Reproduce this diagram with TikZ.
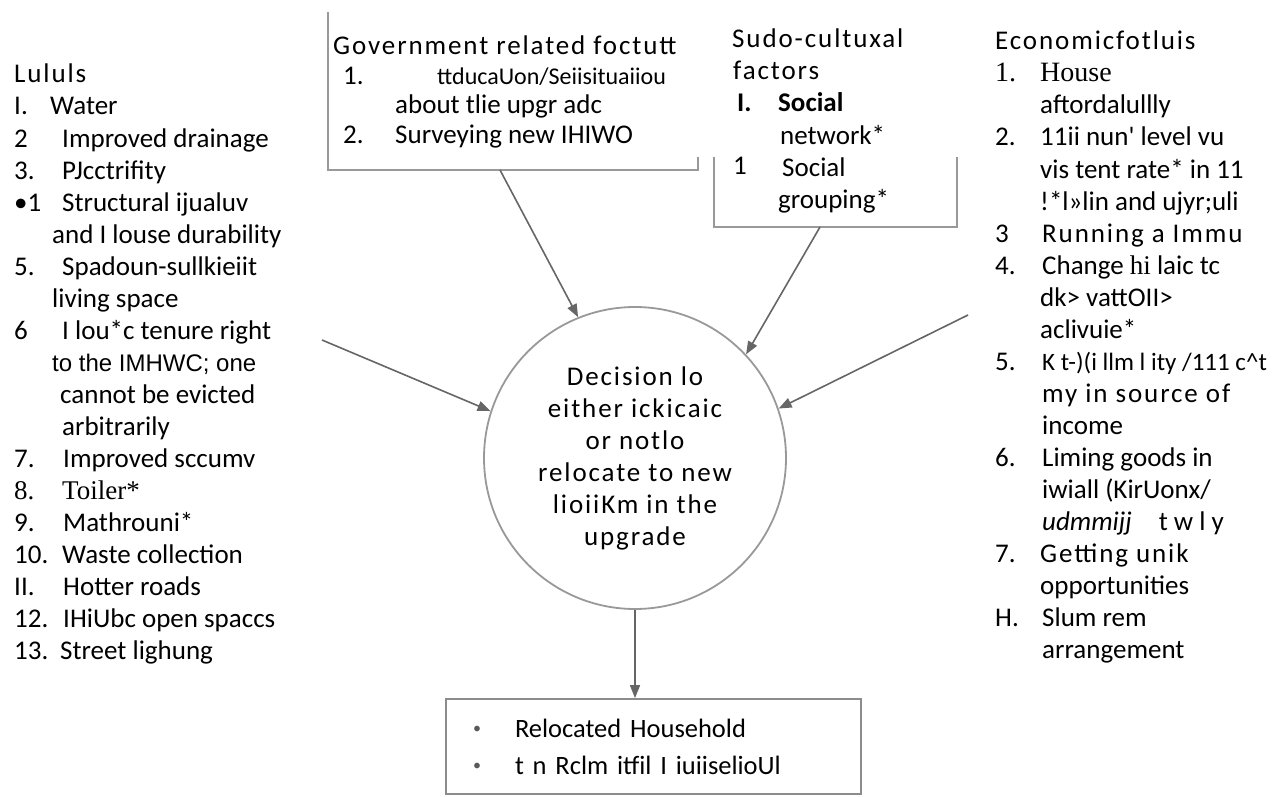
\documentclass[tikz,border=0pt]{standalone}
\usepackage{fontspec}
\setmainfont{Carlito}
\newfontfamily\timesfont{Liberation Serif}
\newfontfamily\arialfont{Liberation Sans}
\newfontfamily\spacedfont[LetterSpace=7]{Carlito}
\usetikzlibrary{arrows.meta}

\begin{document}
\begin{tikzpicture}[x=1pt,y=-1pt]

	\tikzstyle{every node}=[inner sep=0pt, font=\fontsize{27}{32}\selectfont]
	\tikzstyle{line}=[anchor=base west]
	\tikzstyle{frame}=[draw=black!40, line width=1.8pt]
	\tikzstyle{arrow}=[draw=black!60, line width=1.6pt, -{Triangle[length=13pt,width=10pt]}]

	\useasboundingbox[fill=white] (0,0) rectangle (1282,797);

	% left column
	\foreach \x/\t [count=\i from 0] in {14/{\spacedfont Lululs}, 50/Water, 62/Improved drainage, 62/PJcctrifity,
		62/Structural ijualuv, 52/and I louse durability, 62/Spadoun-sullkieiit, 52/living space,
		62/I lou*c tenure right, 52/{\arialfont\fontsize{24}{32}\selectfont to the IMHWC; one}, 60/cannot be evicted,
		62/arbitrarily, 63/Improved sccumv, 62/{\timesfont Toiler*}, 63/Mathrouni*, 62/Waste collection,
		63/Hotter roads, 63/IHiUbc open spaccs, 60/Street lighung}
		\node[line] (left\i) at (\x, 83+32*\i) {\t};
	\foreach \i/\n in {1/I., 2/2, 3/3., 4/\textbullet1, 6/5., 8/6, 12/7., 13/{\timesfont 8.}, 14/9., 15/10., 16/II., 17/12., 18/13.}
		\node[line] (leftnum\i) at (14, 83+32*\i) {\n};

	% government and socio-cultural factors
	\draw[frame] (328,12) -- (328,170) -- (698,170) -- (698,157);
	\draw[frame] (714,157) -- (714,227) -- (957,227) -- (957,157);
	\node[line] (gov0) at (333,55)  {\spacedfont Government related foctutt};
	\node[line] (govnum1) at (343,85) {1.};
	\node[line] (gov1) at (437,85)  {\fontsize{24}{32}\selectfont ttducaUon/Seiisituaiiou};
	\node[line] (gov2) at (395,114) {about tlie upgr adc};
	\node[line] (govnum3) at (343,143) {2.};
	\node[line] (gov3) at (395,143) {Surveying new IHIWO};

	\foreach \x/\t [count=\i from 0] in {732/{\spacedfont Sudo-cultuxal}, 733/{\spacedfont factors}, 778/\textbf{Social},
		780/network*, 782/Social, 778/grouping*}
		\node[line] (soc\i) at (\x, 48+32*\i) {\t};
	\node[line] (socnum2) at (737,112) {\textbf{I.}};
	\node[line] (socnum4) at (733,175) {1};

	% economic factors
	\foreach \x/\t [count=\i from 0] in {995/{\spacedfont Economicfotluis}, 1040/{\timesfont\fontsize{28}{32}\selectfont House}, 1040/aftordalullly,
		1040/11ii nun\textquotesingle{} level vu, 1040/vis tent rate* in 11, 1040/!*l»lin and ujyr;uli, 1042/{\spacedfont Running a Immu},
		1042/Change {\timesfont hi} laic tc, 1040/dk> vattOII>, 1040/aclivuie*, 1042/{\fontsize{25}{32}\selectfont K t-)(i llm l ity /111 c\textasciicircum{}t},
		1042/{\spacedfont my in source of}, 1042/income, 1042/Liming goods in, 1042/{iwiall (KirUonx/},
		1042/{\textit{udmmijj}\quad t w l y}, 1040/{\spacedfont Getting unik}, 1040/opportunities, 1042/Slum rem, 1042/arrangement}
		\node[line] (eco\i) at (\x, 50+32*\i) {\t};
	\foreach \i/\n in {1/{\timesfont\fontsize{28}{32}\selectfont 1.}, 3/2., 6/3, 7/4., 10/5., 13/6., 16/7., 18/H.}
		\node[line] (econum\i) at (995, 50+32*\i) {\n};

	\coordinate (govout)  at (500,170);
	\coordinate (socout)  at (820,227);
	\coordinate (leftin)  at (322,340);
	\coordinate (rightin) at (968,315);

	\node[circle, draw=black!40, line width=1.8pt, minimum size=302pt, align=center] (decision) at (635,458)
		{\spacedfont Decision lo\\ \spacedfont either ickicaic\\ \spacedfont or notlo\\ \spacedfont relocate to new\\ \spacedfont lioiiKm in the\\ \spacedfont upgrade};

	\node[draw=black!45, line width=1.8pt, text width=361pt, inner xsep=27pt, minimum height=95pt, align=left,
		font=\fontsize{26.5}{37}\selectfont] (reloc) at (653.5,746.5)
		{\makebox[42pt][l]{\raisebox{4pt}{\fontsize{16}{16}\selectfont\textcolor{black!65}{\textbullet}}}Relocated Household\\
		 \makebox[42pt][l]{\raisebox{4pt}{\fontsize{16}{16}\selectfont\textcolor{black!65}{\textbullet}}}t n Rclm itfil I iuiiselioUl};

	\draw[arrow] (govout)  -- (decision.112);
	\draw[arrow] (socout)  -- (decision.43);
	\draw[arrow] (leftin)  -- (decision.162);
	\draw[arrow] (rightin) -- (decision.19);
	\draw[arrow] (decision.south) -- (decision.south |- reloc.north);

\end{tikzpicture}
\end{document}
